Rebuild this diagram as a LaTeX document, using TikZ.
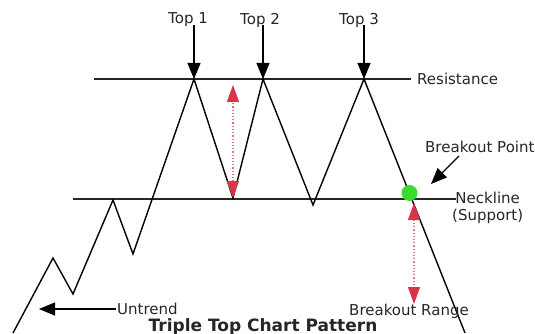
\documentclass[tikz,border=0pt]{standalone}
\usepackage{fontspec}
\setmainfont{DejaVu Sans}
\usetikzlibrary{arrows.meta}
\definecolor{rangered}{HTML}{D8344A}
\definecolor{breakgreen}{HTML}{3ADB2E}

\tikzset{
  tagtext/.style={text=black!85, inner sep=1pt},
  barrier/.style={line width=2pt, black!85},
  pricepath/.style={line width=1.4pt, line join=miter},
  pointer/.style={->, line width=1.4pt},
  rangearrow/.style={rangered!70, dotted, line width=1.2pt,
    {Triangle[width=12pt,length=17pt,color=rangered]}-{Triangle[width=12pt,length=17pt,color=rangered]}}
}

\begin{document}
\begin{tikzpicture}[x=1pt, y=-1pt, font=\fontsize{15}{17}\selectfont,
    >={Triangle[width=13pt,length=16pt]}]
    \useasboundingbox (0,0) rectangle (535,334);

    \coordinate (t1) at (194,79);
    \coordinate (t2) at (263,79);
    \coordinate (t3) at (364,79);
    \coordinate (b1) at (233,198);
    \coordinate (b2) at (313,205);

    \draw[barrier] (94,79) -- (411,79);
    \node[tagtext, anchor=west] (res) at (416,79) {Resistance};
    \draw[barrier] (73,199) -- (456,199);
    \node[tagtext, anchor=west, align=center] (neck) at (451,208) {Neckline\\(Support)};

    \draw[pricepath] (13,333) -- (53,258) -- (73,294) -- (113,200) -- (133,254)
        -- (t1) -- (b1) -- (t2) -- (b2) -- (t3) -- (465,333);

    \node[tagtext] (top1) at (188,20) {Top 1};
    \node[tagtext] (top2) at (260,20) {Top 2};
    \node[tagtext] (top3) at (359,20) {Top 3};
    \draw[pointer] (t1 |- top1) ++(0,5) -- (t1);
    \draw[pointer] (t2 |- top2) ++(0,5) -- (t2);
    \draw[pointer] (t3 |- top3) ++(0,5) -- (t3);

    \coordinate (topsEnd) at (233,85);
    \draw[rangearrow] (b1) -- (topsEnd);

    \node[circle, fill=breakgreen, minimum size=16pt, inner sep=0pt] (bp) at (409.5,193) {};
    \node[tagtext, anchor=west] (bptxt) at (424,147) {Breakout Point};
    \coordinate (bpTip) at (431,184);
    \draw[pointer] (459,156) -- (bpTip);

    \node[tagtext] (rng) at (409,311) {Breakout Range};
    \coordinate (rngTop) at (414,203);
    \coordinate (rngEnd) at (414,304);
    \draw[rangearrow] (rngTop) -- (rngEnd);

    \node[tagtext, anchor=west] (up) at (116,309) {Untrend};
    \coordinate (upTip) at (39,309);
    \draw[pointer] (up.west) -- (upTip);

    \node[tagtext, anchor=base, font=\bfseries\fontsize{17}{19}\selectfont] (title) at (263,331)
        {Triple Top Chart Pattern};
\end{tikzpicture}
\end{document}
